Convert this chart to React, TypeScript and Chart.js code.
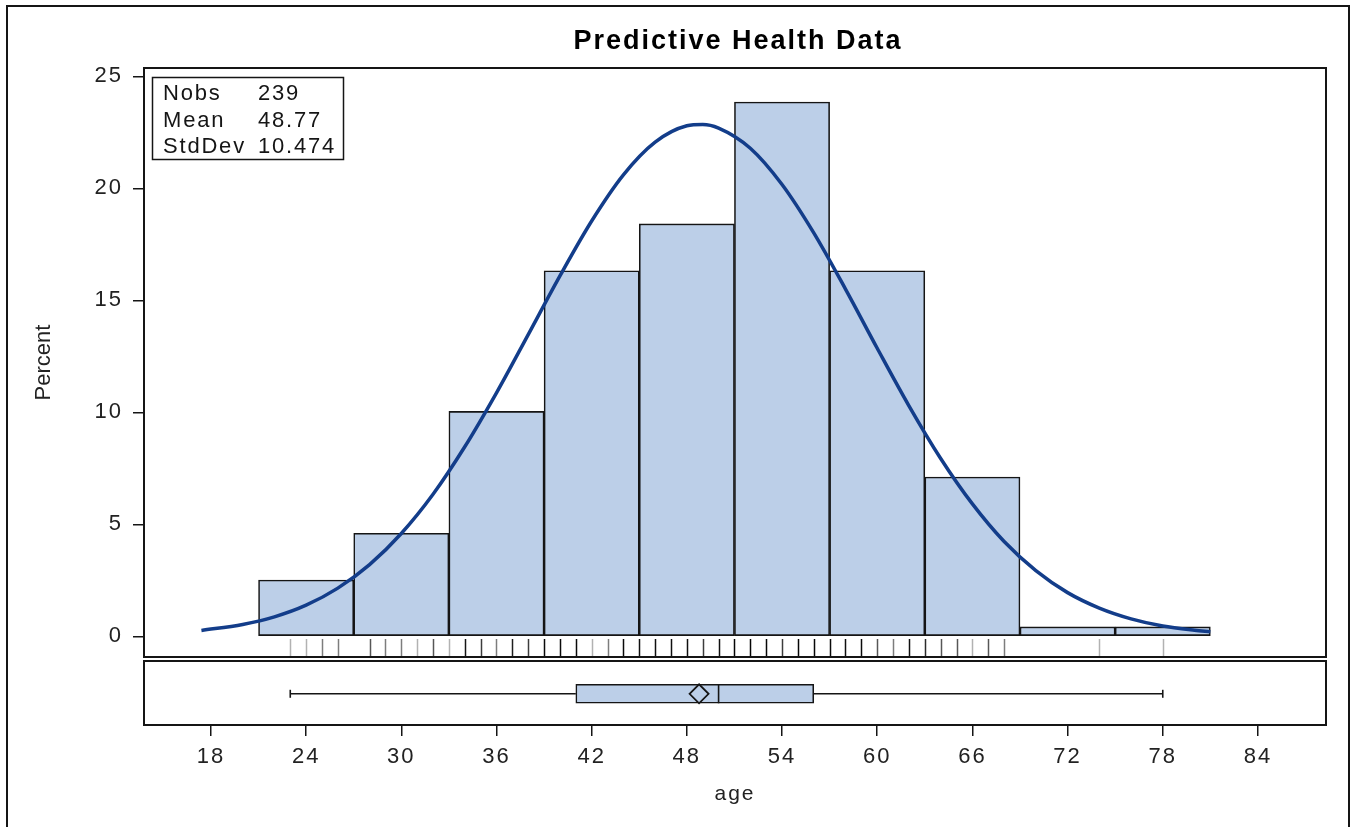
import React, { useEffect, useRef } from 'react';
import { Chart, registerables } from 'chart.js';

Chart.register(...registerables);

// ---------------- data ----------------
const binMidpoints = [24, 30, 36, 42, 48, 54, 60, 66, 72, 78];
const binPercents = [2.51, 4.6, 10.04, 16.32, 18.41, 23.85, 16.32, 7.11, 0.42, 0.42];

const curveAges = [17.4, 20, 22, 24, 26, 28, 30, 32, 34, 36, 38, 40, 42, 44, 46, 48, 49, 50, 52, 54, 56, 58, 60, 62, 64, 66, 68, 70, 72, 74, 76, 78, 80, 81];
const curvePercents = [0.26, 0.53, 0.87, 1.39, 2.15, 3.2, 4.59, 6.34, 8.46, 10.87, 13.47, 16.09, 18.54, 20.6, 22.06, 22.79, 22.85, 22.69, 21.79, 20.17, 18.01, 15.5, 12.86, 10.29, 7.94, 5.91, 4.23, 2.93, 1.95, 1.26, 0.78, 0.46, 0.27, 0.2];

const rugAges = [23, 24, 25, 26, 28, 29, 30, 31, 32, 33, 34, 35, 36, 37, 38, 39, 40, 41, 42, 43, 44, 45, 46, 47, 48, 49, 50, 51, 52, 53, 54, 55, 56, 57, 58, 59, 60, 61, 62, 63, 64, 65, 66, 67, 68, 74, 78];
const rugCounts = [1, 1, 2, 2, 3, 2, 2, 1, 3, 1, 7, 4, 2, 6, 4, 9, 9, 9, 1, 2, 9, 8, 8, 8, 8, 4, 8, 11, 11, 10, 4, 11, 10, 9, 8, 9, 3, 2, 8, 5, 3, 3, 1, 3, 2, 1, 1];

const xTicks = [18, 24, 30, 36, 42, 48, 54, 60, 66, 72, 78, 84];
const yTicks = [0, 5, 10, 15, 20, 25];

const statLabels = ['Nobs', 'Mean', 'StdDev'];
const statValues = ['239', '48.77', '10.474'];

const boxMin = 23;
const boxQ1 = 41;
const boxMedian = 50;
const boxQ3 = 56;
const boxMax = 78;
const boxMean = 48.77;

// ---------------- styles ----------------
const FONT = '"Liberation Sans", Arial, Helvetica, sans-serif';
const BAR_FILL = '#bccfe8';
const INK = '#151515';
const X_MIN = 13.78;
const X_MAX = 88.29;

const zeroPad = (s: any) => {
  s.paddingTop = 0;
  s.paddingBottom = 0;
  s.paddingLeft = 0;
  s.paddingRight = 0;
};

export default function App() {
  const refA = useRef<HTMLCanvasElement | null>(null);
  const refB = useRef<HTMLCanvasElement | null>(null);

  useEffect(() => {
    Chart.defaults.font.family = FONT;

    const mainPlugin = {
      id: 'mainDecor',
      beforeDraw(chart: any) {
        (chart.ctx as any).letterSpacing = '0px';
      },
      afterDatasetsDraw(chart: any) {
        (chart.ctx as any).letterSpacing = '2px';
      },
      afterDraw(chart: any) {
        const ctx = chart.ctx as any;
        const { left, top, right, bottom } = chart.chartArea;
        const xs = chart.scales.x;
        ctx.save();
        // rug
        ctx.lineWidth = 1.5;
        rugAges.forEach((a, i) => {
          const px = Math.round(xs.getPixelForValue(a)) + 0.5;
          const alpha = 1 - Math.pow(0.7, rugCounts[i]);
          ctx.strokeStyle = `rgba(0,0,0,${alpha.toFixed(3)})`;
          ctx.beginPath();
          ctx.moveTo(px, bottom - 18);
          ctx.lineTo(px, bottom - 1);
          ctx.stroke();
        });
        // frame
        ctx.strokeStyle = INK;
        ctx.lineWidth = 2;
        ctx.strokeRect(left, top, right - left, bottom - top);
        // stats box
        ctx.lineWidth = 1.5;
        ctx.strokeRect(left + 8.5, top + 9.5, 191, 82);
        ctx.fillStyle = INK;
        ctx.font = `22px ${FONT}`;
        ctx.letterSpacing = '1.8px';
        ctx.textAlign = 'left';
        ctx.textBaseline = 'alphabetic';
        const baselines = [31.5, 58.5, 85];
        statLabels.forEach((lab, i) => {
          ctx.fillText(lab, left + 19, top + baselines[i]);
          ctx.fillText(statValues[i], left + 114, top + baselines[i]);
        });
        // title
        ctx.font = `bold 27px ${FONT}`;
        ctx.letterSpacing = '2px';
        ctx.textAlign = 'center';
        ctx.fillStyle = '#000';
        ctx.fillText('Predictive Health Data', (left + right) / 2 + 3, 49);
        ctx.restore();
      },
    };

    const chartA = new Chart(refA.current as HTMLCanvasElement, {
      type: 'bar',
      data: {
        datasets: [
          {
            type: 'line',
            data: curveAges.map((x, i) => ({ x, y: curvePercents[i] })),
            borderColor: '#133d8a',
            borderWidth: 3.5,
            pointRadius: 0,
            cubicInterpolationMode: 'monotone',
            fill: false,
            order: 0,
          } as any,
          {
            type: 'bar',
            data: binMidpoints.map((x, i) => ({ x, y: binPercents[i] })),
            backgroundColor: BAR_FILL,
            borderColor: INK,
            borderWidth: 1.6,
            borderSkipped: false,
            categoryPercentage: 1,
            barPercentage: 1,
            grouped: false,
            order: 1,
          } as any,
        ],
      },
      options: {
        animation: false,
        responsive: false,
        maintainAspectRatio: false,
        events: [],
        layout: { autoPadding: false, padding: { top: 68, right: 31, bottom: 2, left: 0 } },
        plugins: {
          legend: { display: false },
          tooltip: { enabled: false },
          title: { display: false },
        },
        scales: {
          x: {
            type: 'linear',
            min: X_MIN,
            max: X_MAX,
            offset: false,
            display: false,
            afterFit: zeroPad,
          },
          y: {
            type: 'linear',
            min: -0.924,
            max: 25.37,
            afterFit: (s: any) => {
              s.width = 144;
              zeroPad(s);
            },
            afterBuildTicks: (s: any) => {
              s.ticks = yTicks.map((v) => ({ value: v }));
            },
            grid: {
              display: true,
              drawOnChartArea: false,
              drawTicks: true,
              tickLength: 11,
              color: INK,
              lineWidth: 1.5,
            },
            border: { display: false },
            ticks: { font: { size: 22 }, color: '#222', padding: 10, z: 1 },
            title: {
              display: true,
              text: 'Percent',
              font: { size: 22 },
              color: '#222',
              padding: { top: 31, bottom: 0 },
            },
          },
        },
      } as any,
      plugins: [mainPlugin],
    });

    const boxPlugin = {
      id: 'boxDecor',
      beforeDraw(chart: any) {
        (chart.ctx as any).letterSpacing = '2px';
      },
      afterDraw(chart: any) {
        const ctx = chart.ctx;
        const { left, top, right, bottom } = chart.chartArea;
        ctx.save();
        ctx.strokeStyle = INK;
        ctx.lineWidth = 2;
        ctx.strokeRect(left, top, right - left, bottom - top);
        ctx.restore();
      },
    };

    const chartB = new Chart(refB.current as HTMLCanvasElement, {
      type: 'scatter',
      data: {
        datasets: [
          {
            type: 'scatter',
            data: [{ x: boxMean, y: 0 }],
            pointStyle: 'rectRot',
            pointRadius: 9.5,
            pointBorderWidth: 1.8,
            pointBorderColor: INK,
            pointBackgroundColor: 'rgba(0,0,0,0)',
            order: 0,
          },
          {
            type: 'scatter',
            data: [{ x: boxMedian, y: 0 }],
            pointStyle: 'line',
            pointRotation: 90,
            pointRadius: 9.5,
            pointBorderWidth: 1.6,
            pointBorderColor: INK,
            order: 1,
          },
          {
            type: 'bar',
            indexAxis: 'y',
            data: [{ x: [boxQ1, boxQ3], y: 0 }],
            backgroundColor: BAR_FILL,
            borderColor: INK,
            borderWidth: 1.6,
            borderSkipped: false,
            barThickness: 19,
            order: 2,
          },
          {
            type: 'line',
            data: [
              { x: boxMin, y: 0 },
              { x: boxQ1, y: 0 },
            ],
            borderColor: INK,
            borderWidth: 1.5,
            pointRadius: 0,
            order: 3,
          },
          {
            type: 'line',
            data: [
              { x: boxQ3, y: 0 },
              { x: boxMax, y: 0 },
            ],
            borderColor: INK,
            borderWidth: 1.5,
            pointRadius: 0,
            order: 3,
          },
          {
            type: 'scatter',
            data: [
              { x: boxMin, y: 0 },
              { x: boxMax, y: 0 },
            ],
            pointStyle: 'line',
            pointRotation: 90,
            pointRadius: 4,
            pointBorderWidth: 1.6,
            pointBorderColor: INK,
            order: 3,
          },
        ] as any,
      },
      options: {
        animation: false,
        responsive: false,
        maintainAspectRatio: false,
        events: [],
        layout: { autoPadding: false, padding: { top: 2, right: 31, bottom: 0, left: 144 } },
        plugins: {
          legend: { display: false },
          tooltip: { enabled: false },
          title: { display: false },
        },
        scales: {
          x: {
            type: 'linear',
            min: X_MIN,
            max: X_MAX,
            offset: false,
            afterBuildTicks: (s: any) => {
              s.ticks = xTicks.map((v) => ({ value: v }));
            },
            afterFit: (s: any) => {
              s.height = 102;
              zeroPad(s);
            },
            grid: {
              display: true,
              drawOnChartArea: false,
              drawTicks: true,
              tickLength: 11,
              color: INK,
              lineWidth: 1.5,
            },
            border: { display: false },
            ticks: { font: { size: 22 }, color: '#222', padding: 8, maxRotation: 0, autoSkip: false },
            title: {
              display: true,
              text: 'age',
              font: { size: 21 },
              color: '#222',
              padding: { top: 0, bottom: 20 },
            },
          },
          y: {
            type: 'linear',
            min: -1,
            max: 1.05,
            offset: false,
            display: false,
            afterFit: zeroPad,
          },
        },
      } as any,
      plugins: [boxPlugin],
    });

    return () => {
      chartA.destroy();
      chartB.destroy();
    };
  }, []);

  return (
    <div
      style={{
        position: 'fixed',
        left: 0,
        top: 0,
        width: 1357,
        height: 827,
        overflow: 'hidden',
        background: '#fff',
      }}
    >
      <div
        style={{
          position: 'absolute',
          left: 6,
          top: 5,
          width: 1340,
          height: 900,
          border: '2px solid #151515',
        }}
      />
      <canvas
        ref={refA}
        width={1357}
        height={659}
        style={{ position: 'absolute', left: 0, top: 0, width: 1357, height: 659, display: 'block' }}
      />
      <canvas
        ref={refB}
        width={1357}
        height={168}
        style={{ position: 'absolute', left: 0, top: 659, width: 1357, height: 168, display: 'block' }}
      />
    </div>
  );
}
